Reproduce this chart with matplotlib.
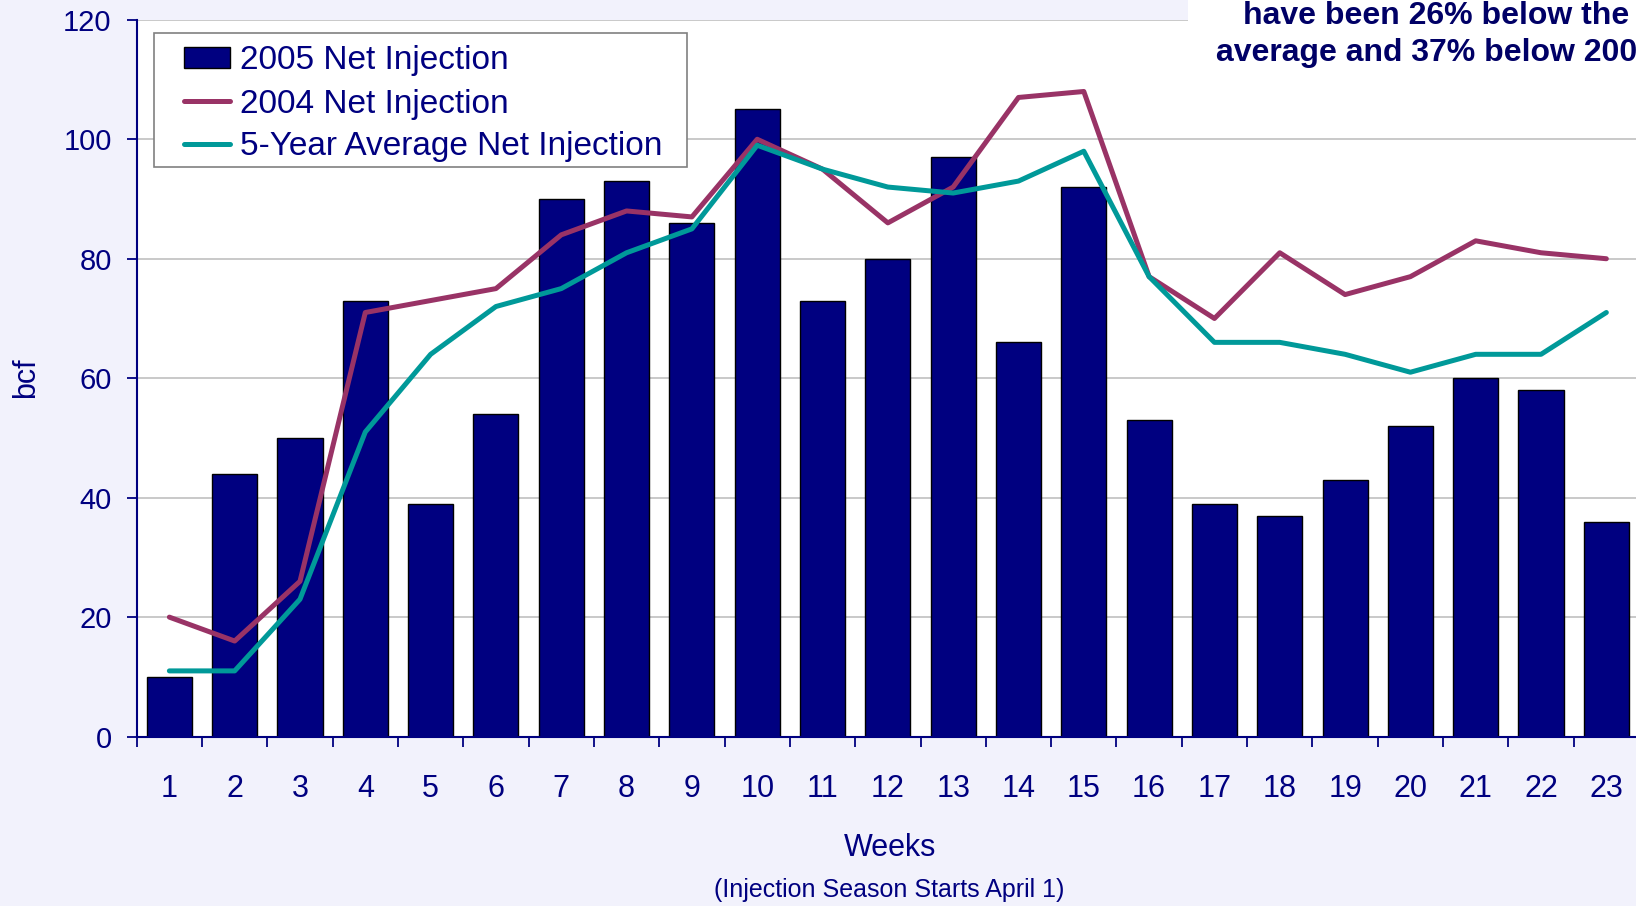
import matplotlib
matplotlib.use("Agg")
import matplotlib.pyplot as plt
from matplotlib.patches import Rectangle, Patch
from matplotlib.lines import Line2D
import numpy as np

plt.rcParams['font.family'] = ['Liberation Sans', 'DejaVu Sans']

weeks = list(range(1, 24))
inj_2005 = [10, 44, 50, 73, 39, 54, 90, 93, 86, 105, 73, 80, 97, 66, 92, 53, 39, 37, 43, 52, 60, 58, 36]
inj_2004 = [20, 16, 26, 71, 73, 75, 84, 88, 87, 100, 95, 86, 92, 107, 108, 77, 70, 81, 74, 77, 83, 81, 80]
avg_5yr = [11, 11, 23, 51, 64, 72, 75, 81, 85, 99, 95, 92, 91, 93, 98, 77, 66, 66, 64, 61, 64, 64, 71]
yticks = [0, 20, 40, 60, 80, 100, 120]

W, H = 1636, 906
NAVY = '#000080'
PLUM = '#993366'
TEAL = '#009999'
BG = '#F2F2FC'

fig = plt.figure(figsize=(W / 100, H / 100), dpi=100, facecolor=BG)
left, right, top, bottom = 136.7, 1639.0, 19.8, 736.6
ax = fig.add_axes([left / W, (H - bottom) / H, (right - left) / W, (bottom - top) / H])
ax.set_facecolor('white')

x = np.array(weeks)
ax.bar(x, inj_2005, width=0.69, color=NAVY, edgecolor='black', linewidth=1.0, zorder=2)
ax.plot(x, inj_2004, color=PLUM, linewidth=3.6, zorder=3, solid_capstyle='round', solid_joinstyle='round')
ax.plot(x, avg_5yr, color=TEAL, linewidth=3.6, zorder=3, solid_capstyle='round', solid_joinstyle='round')

ax.set_xlim(0.5, 23.5)
ax.set_ylim(0, 120)
ax.set_yticks(yticks)
ax.set_yticklabels([str(v) for v in yticks])
ax.yaxis.grid(True, color='#C0C0C0', linewidth=1.2, zorder=0)
ax.set_axisbelow(True)

ax.set_xticks(x)
ax.set_xticklabels([str(w) for w in weeks])
ax.set_xticks(np.arange(0.5, 24.5, 1.0), minor=True)
ax.tick_params(axis='x', which='major', length=0, pad=27, labelsize=22, labelcolor=NAVY)
ax.tick_params(axis='x', which='minor', length=7, width=1.3, color=NAVY, direction='out')
ax.tick_params(axis='y', which='major', length=7, width=1.3, color=NAVY, pad=11, labelsize=21, labelcolor=NAVY)

for s in ['top', 'right']:
    ax.spines[s].set_visible(False)
ax.spines['left'].set_color(NAVY)
ax.spines['left'].set_linewidth(1.5)
ax.spines['bottom'].set_color(NAVY)
ax.spines['bottom'].set_linewidth(1.5)

# legend frame
fig.patches.append(Rectangle((154 / W, 1 - 167 / H), (687 - 154) / W, (167 - 33) / H,
                             transform=fig.transFigure, facecolor='white', edgecolor='#808080',
                             linewidth=1.2, zorder=4))
handles = [Patch(facecolor=NAVY, edgecolor='black', linewidth=1.0),
           Line2D([], [], color=PLUM, linewidth=3.6, solid_capstyle='round'),
           Line2D([], [], color=TEAL, linewidth=3.6, solid_capstyle='round')]
labels = ['2005 Net Injection', '2004 Net Injection', '5-Year Average Net Injection']
leg = fig.legend(handles, labels, loc='upper left', bbox_to_anchor=(183.6 / W, 1 - 45.5 / H),
                 bbox_transform=fig.transFigure, fontsize=24, frameon=False,
                 handlelength=1.38, handleheight=0.6, handletextpad=0.32, labelspacing=0.36,
                 borderpad=0, borderaxespad=0)
leg.set_zorder(5)
for t in leg.get_texts():
    t.set_color(NAVY)

# white annotation box in top-right corner
fig.patches.append(Rectangle((1188 / W, 1 - 75 / H), (W - 1188) / W, 75 / H,
                             transform=fig.transFigure, facecolor='white', edgecolor='none', zorder=5))
fig.text(1436 / W, 1 - 16 / H, 'have been 26% below the', ha='center', va='center',
         fontsize=23, fontweight='bold', color='#000066', zorder=6)
fig.text(1436 / W, 1 - 53 / H, 'average and 37% below 2004', ha='center', va='center',
         fontsize=23, fontweight='bold', color='#000066', zorder=6)

fig.text(890 / W, 1 - 848 / H, 'Weeks', ha='center', va='center', fontsize=22, color=NAVY)
fig.text(889 / W, 1 - 890 / H, '(Injection Season Starts April 1)', ha='center', va='center',
         fontsize=18, color=NAVY)
fig.text(26 / W, 1 - 378 / H, 'bcf', ha='center', va='center', fontsize=22, color=NAVY, rotation=90)

fig.savefig('out.png', dpi=100, facecolor=BG)
